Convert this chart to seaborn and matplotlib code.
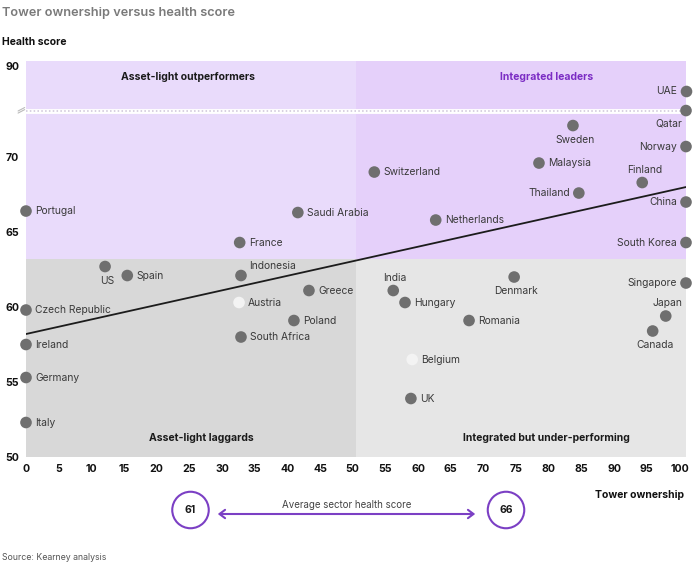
import pandas as pd
import seaborn as sns
import numpy as np
import matplotlib.pyplot as plt
from matplotlib.patches import Ellipse, FancyArrowPatch

# data
countries = ["UAE", "Qatar", "Sweden", "Norway", "Malaysia", "Switzerland", "Finland",
             "Thailand", "China", "Netherlands", "South Korea", "Portugal", "Saudi Arabia",
             "France", "US", "Spain", "Indonesia", "Greece", "Czech Republic", "Austria",
             "Poland", "South Africa", "Ireland", "Germany", "Italy", "India", "Hungary",
             "Denmark", "Romania", "Singapore", "Japan", "Canada", "Belgium", "UK"]
ownership = [101, 101, 83.7, 101, 78.5, 53.3, 94.3,
             84.6, 101, 62.7, 101, 0, 41.6,
             32.7, 12.1, 15.5, 32.9, 43.3, 0, 32.6,
             41.0, 32.9, 0, 0, 0, 56.2, 58.0,
             74.7, 67.8, 101, 97.9, 95.9, 59.1, 58.9]
health = [88.3, 73.1, 72.1, 70.7, 69.6, 69.0, 68.3,
          67.6, 67.0, 65.8, 64.3, 66.4, 66.3,
          64.3, 62.7, 62.1, 62.1, 61.1, 59.8, 60.3,
          59.1, 58.0, 57.5, 55.3, 52.3, 61.1, 60.3,
          62.0, 59.1, 61.6, 59.4, 58.4, 56.5, 53.9]
light_points = ["Austria", "Belgium"]

trend_x = [0, 101]
trend_y = [58.2, 68.0]
split_x = 50.5
split_y = 63.2
avg_light = 61
avg_integrated = 66

# label placement around each marker
place = {"UAE": "l", "Qatar": "bl", "Sweden": "b", "Norway": "l", "Malaysia": "r",
         "Switzerland": "r", "Finland": "t", "Thailand": "l", "China": "l",
         "Netherlands": "r", "South Korea": "l", "US": "b", "Indonesia": "tr",
         "India": "t", "Denmark": "b", "Singapore": "l", "Japan": "t", "Canada": "b"}
offsets = {"r": (9, 0, "left"), "l": (-9, 0, "right"), "t": (2, 13, "center"),
           "b": (2, -14, "center"), "tr": (8, 10, "left"), "bl": (-4, -13, "right")}

df = pd.DataFrame({"country": countries, "ownership": ownership, "health": health})
df["kind"] = np.where(df["country"].isin(light_points), "light", "dark")

sns.set_theme(style="white")
plt.rcParams["font.family"] = ["Inter", "DejaVu Sans"]

W, H = 700, 564
fig = plt.figure(figsize=(7, 5.64), dpi=100)


def fx(px):
    return px / W


def fy(py):
    return 1 - py / H


ax_top = fig.add_axes([fx(26), fy(111), fx(660), (111 - 61) / H])
ax_low = fig.add_axes([fx(26), fy(457), fx(660), (457 - 111) / H])
ax_low.set_zorder(2)
for ax in (ax_top, ax_low):
    ax.patch.set_visible(False)
    sns.despine(ax=ax, left=True, bottom=True)
    ax.set_xlim(0, 101)

low_top = 73.07
ax_low.set_ylim(50, low_top)
ax_top.set_ylim(87, 90.33)

purple_l, purple_r = "#e9dbfb", "#e5d0fa"
grey_l, grey_r = "#d8d8d8", "#e6e6e6"
ax_low.fill_between([0, split_x], split_y, low_top, color=purple_l, lw=0, zorder=0)
ax_low.fill_between([split_x, 101], split_y, low_top, color=purple_r, lw=0, zorder=0)
ax_low.fill_between([0, split_x], 50, split_y, color=grey_l, lw=0, zorder=0)
ax_low.fill_between([split_x, 101], 50, split_y, color=grey_r, lw=0, zorder=0)
ax_top.fill_between([0, split_x], 87, 90.33, color=purple_l, lw=0, zorder=0)
ax_top.fill_between([split_x, 101], 87, 90.33, color=purple_r, lw=0, zorder=0)

# axis break
ax_low.axhline(low_top, color="white", lw=3.5, zorder=1, clip_on=False)
ax_low.axhline(low_top, color="#cdc3d8", lw=1.1, ls=(0, (1, 1.5)), zorder=1, clip_on=False)
ax_low.plot([-0.012, -0.002], [0.994, 1.004], transform=ax_low.transAxes, color="#bbbbbb",
            lw=0.8, clip_on=False)
ax_low.plot([-0.012, -0.002], [1.0, 1.01], transform=ax_low.transAxes, color="#bbbbbb",
            lw=0.8, clip_on=False)

ax_low.plot(trend_x, trend_y, color="#1c1c1c", lw=1.3, zorder=2)

pal = {"dark": "#6f6f6f", "light": "#f3f3f3"}
low = df[df["health"] < 80]
top = df[df["health"] >= 80]
sns.scatterplot(data=low, x="ownership", y="health", hue="kind", palette=pal, s=70,
                linewidth=0, legend=False, clip_on=False, zorder=4, ax=ax_low)
sns.scatterplot(data=top, x="ownership", y="health", hue="kind", palette=pal, s=70,
                linewidth=0, legend=False, clip_on=False, zorder=4, ax=ax_top)

for _, row in df.iterrows():
    ax = ax_top if row["health"] >= 80 else ax_low
    dx, dy, ha = offsets[place.get(row["country"], "r")]
    ax.annotate(row["country"], (row["ownership"], row["health"]), xytext=(dx, dy),
                textcoords="offset pixels", ha=ha, va="center", fontsize=7.4,
                color="#3a3a3a", zorder=5, annotation_clip=False)

ax_low.set_xticks(range(0, 101, 5))
ax_low.set_yticks([50, 55, 60, 65, 70])
ax_top.set_xticks([])
ax_top.set_yticks([90])
for ax in (ax_top, ax_low):
    ax.tick_params(length=0, labelsize=7.6, pad=5)
    for lab in ax.get_xticklabels() + ax.get_yticklabels():
        lab.set_fontweight("bold")
        lab.set_color("#111111")
    ax.set_xlabel("")
    ax.set_ylabel("")

# quadrant names
quad = dict(fontsize=7.5, fontweight="bold", ha="center", va="center")
ax_top.text(0.245, 0.68, "Asset-light outperformers", transform=ax_top.transAxes,
            color="#1a1a1a", **quad)
ax_top.text(0.789, 0.68, "Integrated leaders", transform=ax_top.transAxes,
            color="#7b2cc4", **quad)
ax_low.text(0.265, 0.055, "Asset-light laggards", transform=ax_low.transAxes,
            color="#1a1a1a", **quad)
ax_low.text(0.789, 0.055, "Integrated but under-performing", transform=ax_low.transAxes,
            color="#1a1a1a", **quad)

fig.text(fx(2), fy(13), "Tower ownership versus health score", fontsize=9.2,
         fontweight="semibold", color="#7a7a7a", va="center")
fig.text(fx(2), fy(42), "Health score", fontsize=7.5, fontweight="bold",
         color="#111111", va="center")
fig.text(fx(684), fy(495), "Tower ownership", fontsize=7.5, fontweight="bold",
         color="#111111", va="center", ha="right")

# average sector health score
purple = "#7b3fc4"
for cx, val in [(190.5, avg_light), (506, avg_integrated)]:
    fig.add_artist(Ellipse((fx(cx), fy(510)), 36.5 / W, 36.5 / H, fill=False,
                           edgecolor=purple, lw=1.5, transform=fig.transFigure))
    fig.text(fx(cx), fy(510), str(val), fontsize=7.5, fontweight="bold",
             color="#1a1a1a", ha="center", va="center")
fig.add_artist(FancyArrowPatch((fx(215), fy(514)), (fx(478), fy(514)),
                               transform=fig.transFigure, arrowstyle="<->,head_length=4,head_width=3",
                               color=purple, lw=1.5))
fig.text(fx(347), fy(505), "Average sector health score", fontsize=7, color="#444444",
         ha="center", va="center")
fig.text(fx(2), fy(558), "Source: Kearney analysis", fontsize=6.3, color="#555555",
         va="center")

fig.savefig("out.png", dpi=100)
